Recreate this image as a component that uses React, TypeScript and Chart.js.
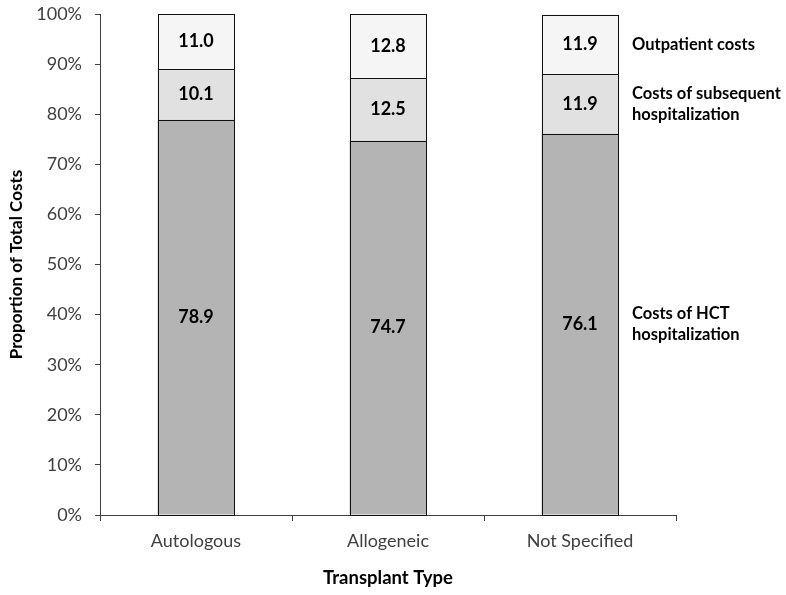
import React, { useEffect, useRef } from "react";
import { Chart, registerables } from "chart.js";

Chart.register(...registerables);

const categories = ["Autologous", "Allogeneic", "Not Specified"];
const hctHospitalization = [78.9, 74.7, 76.1];
const subsequentHospitalization = [10.1, 12.5, 11.9];
const outpatientCosts = [11.0, 12.8, 11.9];
const seriesNames = [
  ["Costs of HCT", "hospitalization"],
  ["Costs of subsequent", "hospitalization"],
  ["Outpatient costs"],
];
const yTicks = [0, 10, 20, 30, 40, 50, 60, 70, 80, 90, 100];

const FONT = "Lato, 'Open Sans', sans-serif";

const labelsPlugin = {
  id: "segLabels",
  afterDatasetsDraw(chart: any) {
    const ctx = chart.ctx;
    ctx.save();
    // outlines
    ctx.strokeStyle = "#111";
    ctx.lineWidth = 1;
    chart.data.datasets.forEach((_ds: any, di: number) => {
      const meta = chart.getDatasetMeta(di);
      meta.data.forEach((bar: any) => {
        const l = Math.round(bar.x - bar.width / 2);
        const r = Math.round(bar.x + bar.width / 2);
        const t = Math.round(Math.min(bar.y, bar.base));
        const b = Math.round(Math.max(bar.y, bar.base));
        ctx.strokeRect(l + 0.5, t + 0.5, r - l, b - t);
      });
    });
    ctx.textBaseline = "middle";
    chart.data.datasets.forEach((ds: any, di: number) => {
      const meta = chart.getDatasetMeta(di);
      meta.data.forEach((bar: any, i: number) => {
        const cy = (bar.y + bar.base) / 2;
        ctx.fillStyle = "#000";
        ctx.font = `bold 18px ${FONT}`;
        ctx.textAlign = "center";
        ctx.fillText(ds.data[i].toFixed(1), bar.x, cy);
        if (i === meta.data.length - 1) {
          const lines = seriesNames[di];
          ctx.font = `bold 16.5px ${FONT}`;
          ctx.textAlign = "left";
          const lh = 21;
          const startY = cy - ((lines.length - 1) * lh) / 2;
          lines.forEach((t: string, k: number) => {
            ctx.fillText(t, chart.chartArea.right - 44, startY + k * lh);
          });
        }
      });
    });
    ctx.restore();
  },
};

export default function App() {
  const ref = useRef<HTMLCanvasElement>(null);
  useEffect(() => {
    document.body.style.margin = "0";
    const chart = new Chart(ref.current!, {
      type: "bar",
      data: {
        labels: categories,
        datasets: [
          { label: "HCT", data: hctHospitalization, backgroundColor: "#b4b4b4" },
          { label: "Subsequent", data: subsequentHospitalization, backgroundColor: "#e1e1e1" },
          { label: "Outpatient", data: outpatientCosts, backgroundColor: "#f5f5f5" },
        ].map((d) => ({
          ...d,
          borderWidth: 0,
          categoryPercentage: 1,
          barPercentage: 0.4,
        })),
      },
      options: {
        animation: false,
        responsive: false,
        maintainAspectRatio: false,
        layout: { padding: { left: 0, right: 110, top: 14, bottom: 0 } },
        plugins: { legend: { display: false }, tooltip: { enabled: false } },
        scales: {
          x: {
            stacked: true,
            grid: { display: true, drawOnChartArea: false, tickLength: 6, color: "#404040", offset: true },
            border: { color: "#404040", width: 1 },
            ticks: { color: "#404040", font: { family: FONT, size: 18 }, padding: 9 },
            title: {
              display: true,
              text: "Transplant Type",
              color: "#000",
              font: { family: FONT, size: 18.5, weight: "bold" },
              padding: { top: 6, bottom: 6 },
            },
            afterFit: (s: any) => {
              s.height = 80;
              s.paddingLeft = 0;
              s.paddingRight = 0;
            },
          },
          y: {
            stacked: true,
            min: 0,
            max: 100,
            afterBuildTicks: (s: any) => {
              s.ticks = yTicks.map((v) => ({ value: v }));
            },
            grid: { display: true, drawOnChartArea: false, tickLength: 5, color: "#404040" },
            border: { color: "#404040", width: 1 },
            ticks: {
              color: "#404040",
              font: { family: FONT, size: 18 },
              padding: 13,
              callback: (v: any) => v + "%",
            },
            title: {
              display: true,
              text: "Proportion of Total Costs",
              color: "#000",
              font: { family: FONT, size: 17, weight: "bold" },
              padding: { top: 6, bottom: 6 },
            },
            afterFit: (s: any) => {
              s.width = 100;
              s.paddingTop = 0;
              s.paddingBottom = 0;
            },
          },
        },
      },
      plugins: [labelsPlugin],
    });
    return () => chart.destroy();
  }, []);
  return (
    <div style={{ position: "relative", width: 786, height: 595 }}>
      <canvas ref={ref} width={786} height={595} />
    </div>
  );
}
